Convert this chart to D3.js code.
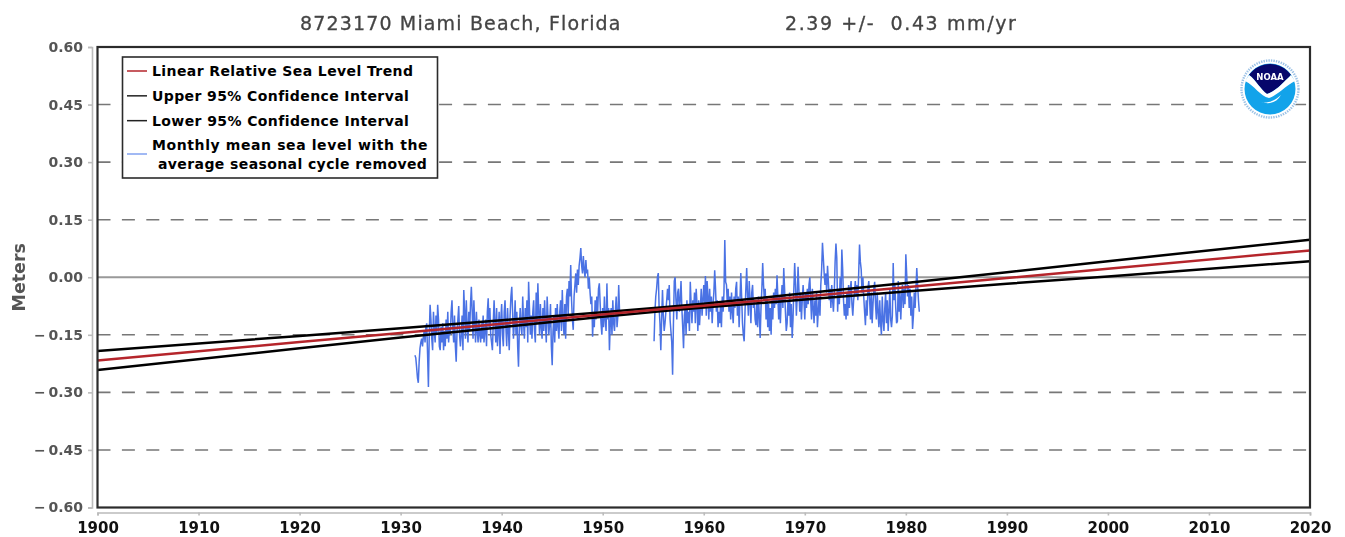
<!DOCTYPE html>
<html>
<head>
<meta charset="utf-8">
<script src="https://cdn.jsdelivr.net/npm/d3@7"></script>
<style>
  body { margin: 0; background: #fff; }
  svg { display: block; filter: blur(0.5px); }
  text { font-family: "DejaVu Sans", sans-serif; }
</style>
</head>
<body>
<script>
const w = 1345;
const h = 537;
const marginLeft = 97.5;
const marginRight = 35;
const marginTop = 47;
const marginBottom = 29.5;

const titleStation = "8723170 Miami Beach, Florida";
const titleTrend = "2.39 +/-\u00a0\u00a00.43 mm/yr";

const yearTicks = [1900, 1910, 1920, 1930, 1940, 1950, 1960, 1970, 1980, 1990, 2000, 2010, 2020];
const meterTicks = [0.6, 0.45, 0.3, 0.15, 0, -0.15, -0.3, -0.45, -0.6];
const gridValues = [0.45, 0.3, 0.15, -0.15, -0.3, -0.45];

const trendYears = [1900, 1920, 1930, 1940, 1950, 1956, 1960, 1970, 1980, 1990, 2000, 2020];
const trendValues = [-0.217, -0.169, -0.145, -0.121, -0.097, -0.083, -0.074, -0.050, -0.026, -0.002, 0.022, 0.070];
const upperValues = [-0.192, -0.153, -0.133, -0.112, -0.091, -0.078, -0.069, -0.042, -0.015, 0.013, 0.042, 0.098];
const lowerValues = [-0.242, -0.185, -0.157, -0.130, -0.103, -0.088, -0.079, -0.058, -0.037, -0.017, 0.002, 0.042];

const legendLabels = ["Linear Relative Sea Level Trend", "Upper 95% Confidence Interval", "Lower 95% Confidence Interval"];
const legendLast = ["Monthly mean sea level with the", "average seasonal cycle removed"];

// monthly values, first record starts Jun 1931, second starts Feb 1955
const firstStart = 1931 + 5 / 12;
const firstRecord = [
  -0.203, -0.21, -0.235, -0.262, -0.275, -0.22, -0.185,
  -0.17, -0.16, -0.18, -0.155, -0.14, -0.17, -0.13, -0.12, -0.2, -0.286, -0.15, -0.072,
  -0.11, -0.16, -0.19, -0.09, -0.14, -0.17, -0.10, -0.15, -0.072, -0.11, -0.18, -0.19,
  -0.13, -0.17, -0.12, -0.19, -0.14, -0.18, -0.11, -0.16, -0.09, -0.17, -0.13, -0.15,
  -0.09, -0.06, -0.13, -0.17, -0.10, -0.18, -0.22, -0.14, -0.11, -0.075, -0.15, -0.18,
  -0.15, -0.10, -0.19, -0.033, -0.09, -0.16, -0.06, -0.13, -0.17, -0.09, -0.14, -0.07,
  -0.025, -0.09, -0.16, -0.06, -0.12, -0.17, -0.09, -0.14, -0.17, -0.11, -0.15, -0.17,
  -0.12, -0.16, -0.10, -0.17, -0.14, -0.11, -0.18, -0.09, -0.055, -0.13, -0.08, -0.15,
  -0.17, -0.19, -0.12, -0.06, -0.12, -0.17, -0.08, -0.18, -0.14, -0.09, -0.20, -0.11,
  -0.07, -0.15, -0.18, -0.09, -0.06, -0.13, -0.18, -0.08, -0.14, -0.19, -0.10, -0.05,
  -0.025, -0.09, -0.16, -0.12, -0.06, -0.15, -0.09, -0.18, -0.233, -0.13, -0.08, -0.13,
  -0.15, -0.05, -0.12, -0.16, -0.08, -0.13, -0.06, -0.17, -0.012, -0.08, -0.15, -0.10,
  -0.16, -0.09, -0.06, -0.14, -0.17, -0.04, -0.12, -0.016, -0.09, -0.15, -0.07, -0.13,
  -0.16, -0.08, -0.14, -0.06, -0.12, -0.17, -0.05, -0.10, -0.15, -0.12, -0.07, -0.18,
  -0.229, -0.14, -0.10, -0.17, -0.08, -0.14, -0.07, -0.13, -0.16, -0.09, -0.06, -0.14,
  -0.033, -0.11, -0.15, -0.07, -0.16, -0.05, -0.03, -0.10, -0.01, -0.05, 0.032, -0.06,
  -0.11, -0.137, -0.05, -0.02, 0.01, -0.04, 0.02, -0.02, 0.03, 0.05, 0.076, 0.03,
  0.01, 0.055, 0.02, 0.0, 0.045, 0.01, 0.02, -0.03, 0.0, -0.04, -0.07, -0.05,
  -0.155, -0.09, -0.13, -0.06, -0.11, -0.05, -0.09, -0.03, -0.016, -0.07, -0.12, -0.15,
  -0.08, -0.13, -0.05, -0.11, -0.14, -0.016, -0.11, -0.08, -0.19, -0.12, -0.08, -0.15,
  -0.06, -0.12, -0.14, -0.09, -0.05, -0.13, -0.10, -0.02, -0.09
];

const secondStart = 1955 + 1 / 12;
const secondRecord = [
  -0.167, -0.09, -0.05, -0.03, 0.0, 0.011, -0.08, -0.12, -0.19, -0.11, -0.033,
  -0.10, -0.14, -0.12, -0.09, -0.06, -0.03, -0.06, -0.02, -0.11, -0.14, -0.17, -0.254,
  -0.12, -0.01, 0.0, -0.06, -0.11, -0.04, -0.03, -0.09, -0.06, -0.01, -0.08, -0.13,
  -0.185, -0.10, -0.08, -0.15, -0.06, -0.12, -0.09, -0.14, -0.012, -0.07, -0.12, -0.06,
  -0.09, -0.04, -0.12, -0.03, -0.07, -0.14, -0.06, -0.125, -0.08, -0.03, -0.10, -0.06,
  -0.02, -0.07, 0.003, -0.10, -0.01, -0.05, -0.11, -0.03, -0.09, -0.05, -0.12, -0.07,
  -0.04, 0.018, -0.03, -0.09, -0.06, -0.13, -0.09, -0.12, -0.07, -0.13, -0.05, -0.09,
  -0.04, 0.097, -0.012, -0.02, -0.07, -0.03, -0.09, -0.05, -0.11, -0.04, -0.09, -0.12,
  -0.05, -0.08, -0.03, -0.012, -0.10, -0.05, -0.13, -0.06, 0.011, -0.05, -0.12, -0.15,
  -0.167, -0.09, -0.03, 0.024, -0.05, -0.10, -0.01, -0.06, -0.12, -0.04, -0.02, -0.08,
  -0.06, -0.11, -0.125, -0.07, -0.13, -0.05, -0.10, -0.158, -0.08, -0.03, 0.037, -0.02,
  -0.06, -0.03, -0.11, -0.05, -0.13, -0.07, -0.14, -0.08, -0.15, -0.06, -0.11, -0.04,
  -0.08, -0.03, -0.07, 0.005, -0.05, -0.11, -0.05, -0.12, -0.06, -0.02, -0.08, 0.024,
  -0.03, -0.09, -0.14, -0.12, -0.06, -0.10, -0.04, -0.13, -0.07, -0.158, -0.11, -0.03,
  0.037, -0.02, -0.10, -0.05, 0.027, -0.03, -0.09, -0.04, -0.11, -0.06, -0.02, -0.06,
  -0.11, -0.04, -0.08, -0.03, -0.07, -0.02, 0.0, -0.06, -0.11, -0.03, -0.08, -0.12,
  -0.06, -0.10, -0.04, -0.13, -0.09, -0.05, -0.10, -0.02, 0.02, 0.09, 0.05, 0.01,
  -0.02, 0.01, -0.04, 0.03, -0.01, -0.06, -0.03, -0.08, -0.02, -0.06, -0.09, -0.04,
  0.04, 0.088, 0.05, -0.09, -0.03, -0.07, 0.0, -0.05, 0.072, 0.02, -0.06, -0.10,
  -0.07, -0.11, -0.04, -0.10, -0.02, -0.08, -0.03, -0.01, -0.07, -0.10, -0.06, -0.04,
  -0.01, -0.05, -0.02, -0.06, 0.01, 0.085, 0.04, 0.02, -0.04, 0.0, -0.05, -0.09,
  -0.125, -0.06, -0.10, -0.03, -0.01, -0.06, -0.11, -0.04, -0.12, -0.07, -0.03, -0.012,
  -0.07, -0.11, -0.04, -0.09, -0.13, -0.06, -0.12, -0.15, -0.05, -0.11, -0.14, -0.08,
  -0.04, -0.12, -0.06, -0.14, -0.09, -0.03, -0.11, -0.13, -0.10, 0.037, -0.06, -0.02,
  -0.08, -0.12, -0.115, -0.01, -0.09, -0.04, -0.11, -0.05, -0.02, -0.08, -0.03, -0.07,
  0.06, 0.01, -0.05, -0.02, -0.08, -0.03, -0.10, -0.05, -0.135, -0.10, -0.04, -0.08,
  -0.03, 0.024, -0.02, -0.06, -0.09
];

const blue = "#4a72e4";
const red = "#b5252b";
const dark = "#2b2b2b";
const gray = "#555";

let svg = d3.select("body").append("svg")
    .attr("width", w)
    .attr("height", h);

let xScale = d3.scaleLinear().domain([1900, 2020]).range([marginLeft, w - marginRight]);
let yScale = d3.scaleLinear().domain([-0.6, 0.6]).range([h - marginBottom, marginTop]);

// title
svg.append("text").attr("x", 300).attr("y", 30)
    .style("font-size", "19px").style("fill", "#444").style("stroke", "#444").style("stroke-width", "0.3px").style("letter-spacing", "1.15px")
    .text(titleStation);
svg.append("text").attr("x", 785).attr("y", 30)
    .style("font-size", "19px").style("fill", "#444").style("stroke", "#444").style("stroke-width", "0.3px").style("letter-spacing", "1.6px")
    .text(titleTrend);

// grid
svg.selectAll(".grid")
    .data(gridValues)
    .enter()
    .append("line")
    .attr("class", "grid")
    .attr("x1", xScale(1900))
    .attr("x2", xScale(2020))
    .attr("y1", d => yScale(d))
    .attr("y2", d => yScale(d))
    .attr("stroke", "#777")
    .attr("stroke-width", 1.6)
    .attr("stroke-dasharray", "13,11.4");

svg.append("line")
    .attr("x1", xScale(1900)).attr("x2", xScale(2020))
    .attr("y1", yScale(0)).attr("y2", yScale(0))
    .attr("stroke", "#999").attr("stroke-width", 2);

// monthly series
let monthLine = d3.line()
    .x(d => xScale(d.year))
    .y(d => yScale(d.value));

[[firstStart, firstRecord], [secondStart, secondRecord]].forEach(function (rec) {
    let pts = rec[1].map((v, i) => ({ year: rec[0] + i / 12, value: v }));
    svg.append("path")
        .attr("d", monthLine(pts))
        .attr("fill", "none")
        .attr("stroke", blue)
        .attr("stroke-width", 1.5);
});

// trend and confidence lines
[[upperValues, "#000"], [lowerValues, "#000"], [trendValues, red]].forEach(function (s) {
    let pts = s[0].map((v, i) => ({ year: trendYears[i], value: v }));
    svg.append("path")
        .attr("d", monthLine(pts))
        .attr("fill", "none")
        .attr("stroke", s[1])
        .attr("stroke-width", 2.5);
});

// plot frame
svg.append("rect")
    .attr("x", xScale(1900))
    .attr("y", yScale(0.6))
    .attr("width", xScale(2020) - xScale(1900))
    .attr("height", yScale(-0.6) - yScale(0.6))
    .attr("fill", "none")
    .attr("stroke", dark)
    .attr("stroke-width", 2.2);

// axes
function meterLabel(d) {
    let s = Math.abs(d).toFixed(2);
    return d < 0 ? "\u2212\u2009" + s : s;
}

let yAxis = svg.append("g")
    .attr("transform", "translate(92,0)")
    .call(d3.axisLeft(yScale).tickValues(meterTicks).tickFormat(meterLabel).tickSize(4).tickPadding(5));
yAxis.selectAll("text")
    .style("font-size", "14px").style("font-weight", "bold").style("fill", gray);

let xAxis = svg.append("g")
    .attr("transform", "translate(0,512.5)")
    .call(d3.axisBottom(xScale).tickValues(yearTicks).tickFormat(d3.format("d")).tickSize(3).tickPadding(7));
xAxis.selectAll("text")
    .style("font-size", "15px").style("font-weight", "bold").style("fill", "#111");

[yAxis, xAxis].forEach(function (a) {
    a.selectAll("path, line").attr("stroke", "#bbb").attr("stroke-width", 1.6);
});

svg.append("text")
    .attr("transform", "translate(25," + yScale(0) + ") rotate(-90)")
    .style("text-anchor", "middle")
    .style("font-size", "17.5px").style("font-weight", "bold").style("fill", gray)
    .text("Meters");

// legend
let legend = svg.append("g");
legend.append("rect")
    .attr("x", 122.5).attr("y", 57)
    .attr("width", 315).attr("height", 121)
    .attr("fill", "#fff").attr("stroke", dark).attr("stroke-width", 1.6);

let legendRows = d3.scaleLinear().domain([0, 3]).range([71, 145.5]);

legendLabels.forEach(function (label, i) {
    legend.append("line")
        .attr("x1", 127).attr("x2", 147)
        .attr("y1", legendRows(i)).attr("y2", legendRows(i))
        .attr("stroke", i == 0 ? red : "#222").attr("stroke-width", 1.5);
    legend.append("text")
        .attr("x", 152).attr("y", legendRows(i) + 5)
        .style("font-size", "14px").style("font-weight", "bold").style("letter-spacing", "0.4px")
        .text(label);
});
legend.append("line")
    .attr("x1", 127).attr("x2", 147)
    .attr("y1", 154).attr("y2", 154)
    .attr("stroke", "#6f94ee").attr("stroke-width", 1.3);
legend.append("text")
    .attr("x", 152).attr("y", 150)
    .style("font-size", "14px").style("font-weight", "bold").style("letter-spacing", "0.6px")
    .text(legendLast[0]);
legend.append("text")
    .attr("x", 158).attr("y", 169)
    .style("font-size", "14px").style("font-weight", "bold").style("letter-spacing", "0.4px")
    .text(legendLast[1]);

// NOAA logo
let logo = svg.append("g").attr("transform", "translate(1270,89)");
logo.append("circle").attr("r", 30).attr("fill", "#fff");
logo.append("circle").attr("r", 28.5).attr("fill", "none")
    .attr("stroke", "#5a9ad6").attr("stroke-width", 2.4).attr("stroke-dasharray", "1.4,1.1").attr("opacity", 0.6);
logo.append("circle").attr("r", 25.5).attr("fill", "#12a3ea");
logo.append("path")
    .attr("d", "M-21,-14 A25.5,25.5 0 0 1 21,-14 C14,-7 6,2 -3,5 C-9,1 -14,-9 -21,-14 Z")
    .attr("fill", "#07076b");
logo.append("path")
    .attr("d", "M-25,-8 L-21,-14 C-14,-9 -9,1 -3,5 C6,2 14,-7 21,-14 L25,-8 C15,-3 8,6 -1,9 C-10,7 -15,-3 -25,-8 Z")
    .attr("fill", "#fff");
logo.append("path")
    .attr("d", "M-9,13 C-2,15 6,11 11,6 C7,13 0,16 -9,13 Z")
    .attr("fill", "#fff");
logo.append("text")
    .attr("y", -9)
    .style("text-anchor", "middle")
    .style("font-size", "8.5px").style("font-weight", "bold").style("fill", "#fff")
    .text("NOAA");
</script>
</body>
</html>
